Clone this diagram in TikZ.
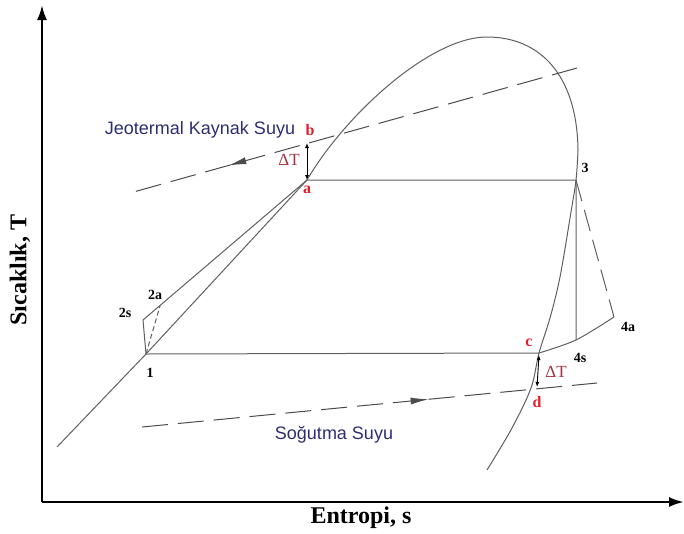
\documentclass[tikz,border=0pt]{standalone}
\usepackage{fontspec}
\setmainfont{Liberation Serif}
\newfontfamily\flowfont{Liberation Sans}
\usepackage{xcolor}
\usetikzlibrary{arrows.meta,decorations.markings}

\definecolor{linegray}{RGB}{95,95,95}
\definecolor{flowblue}{RGB}{45,45,115}
\definecolor{ptred}{RGB}{225,30,45}
\definecolor{dtred}{RGB}{160,50,65}

\begin{document}
\begin{tikzpicture}[
  x=1pt, y=-1pt,
  >=Latex,
  axis/.style={line width=2.4pt, -{Latex[length=15pt,width=10pt]}},
  curve/.style={draw=linegray, line width=1pt},
  stream/.style={draw=linegray!80!black, line width=1pt, dash pattern=on 26pt off 10pt},
  flowmark/.style={postaction={decorate, decoration={markings,
    mark=at position #1 with {\arrow{Latex[length=18pt,width=7pt]}}}}},
  delta/.style={draw=black, line width=0.9pt, {Latex[length=5pt,width=4pt]}-{Latex[length=5pt,width=4pt]}},
  ptlabel/.style={font=\bfseries\fontsize{14}{14}\selectfont, inner sep=0pt},
  redlabel/.style={font=\bfseries\fontsize{16}{16}\selectfont, text=ptred, inner sep=0pt},
  dtlabel/.style={font=\fontsize{17}{17}\selectfont, text=dtred, inner sep=0pt},
  flowtext/.style={font=\flowfont\fontsize{18}{18}\selectfont, text=flowblue, inner sep=0pt},
  axtext/.style={font=\bfseries\fontsize{24}{24}\selectfont, inner sep=0pt}
]
\useasboundingbox (0,0) rectangle (684,533);

% axes
\coordinate (O) at (42,502);
\coordinate (ytop) at (42,5);
\coordinate (xend) at (684,502);
\draw[axis] (O) -- (ytop);
\draw[axis] (O) -- (xend);
\node[axtext] (xlab) at (361,518) {Entropi, s};
\node[axtext, rotate=90] (ylab) at (20,270) {Sıcaklık, T};

% state points
\coordinate (p1) at (146,354);
\coordinate (p2s) at (143,320);
\coordinate (p2a) at (160,306);
\coordinate (pa) at (307,180);
\coordinate (pb) at (307,143);
\coordinate (p3) at (576,180);
\coordinate (p4s) at (576,340);
\coordinate (p4a) at (614,317);
\coordinate (pc) at (539,353);
\coordinate (pd) at (537,389);
\coordinate (top) at (487,37);
\coordinate (rside) at (578,150);

% saturation dome
\draw[curve] (57,447) -- (p1) -- (pa) .. controls (345,115) and (430,37) .. (top)
  .. controls (540,37) and (577,75) .. (rside);
\draw[curve] plot[smooth, tension=0.55] coordinates {(rside) (p3) (570,218) (560,277) (550,318) (pc)
  (531,388) (512,428) (487,470)};

% cycle
\draw[curve] (p1) -- (p2s) -- (pa) -- (p3) -- (p4s);
\draw[curve] (p1) -- (pc);
\draw[curve] plot[smooth] coordinates {(pc) (p4s) (p4a)};
\draw[curve, dash pattern=on 5pt off 3pt] (p1) -- (p2a);
\draw[curve, dash pattern=on 22pt off 9pt] (p3) -- (p4a);

% heat source and sink streams
\coordinate (geoin) at (577,68);
\coordinate (geoout) at (130,193);
\coordinate (cwin) at (142,427);
\coordinate (cwout) at (597,383);
\draw[stream, flowmark=0.78] (geoin) -- (geoout);
\draw[stream, flowmark=0.63] (cwin) -- (cwout);

% pinch points
\draw[delta] (pa) -- (pb);
\draw[delta] ([yshift=-2pt]pc) -- ([yshift=2pt]pd);

% labels
\node[ptlabel] (l1) at (150,373) {1};
\node[ptlabel] (l2s) at (125,313) {2s};
\node[ptlabel] (l2a) at (155,295) {2a};
\node[ptlabel] (l3) at (585,168) {3};
\node[ptlabel] (l4s) at (580,358) {4s};
\node[ptlabel] (l4a) at (628,327) {4a};
\node[redlabel] (la) at (307,190) {a};
\node[redlabel] (lb) at (310,130) {b};
\node[redlabel] (lc) at (529,343) {c};
\node[redlabel] (ld) at (537,402) {d};
\node[dtlabel] (dt1) at (289,160) {ΔT};
\node[dtlabel] (dt2) at (556,372) {ΔT};
\node[flowtext] (geo) at (200,130) {Jeotermal Kaynak Suyu};
\node[flowtext] (cw) at (334,435) {Soğutma Suyu};
\end{tikzpicture}
\end{document}
